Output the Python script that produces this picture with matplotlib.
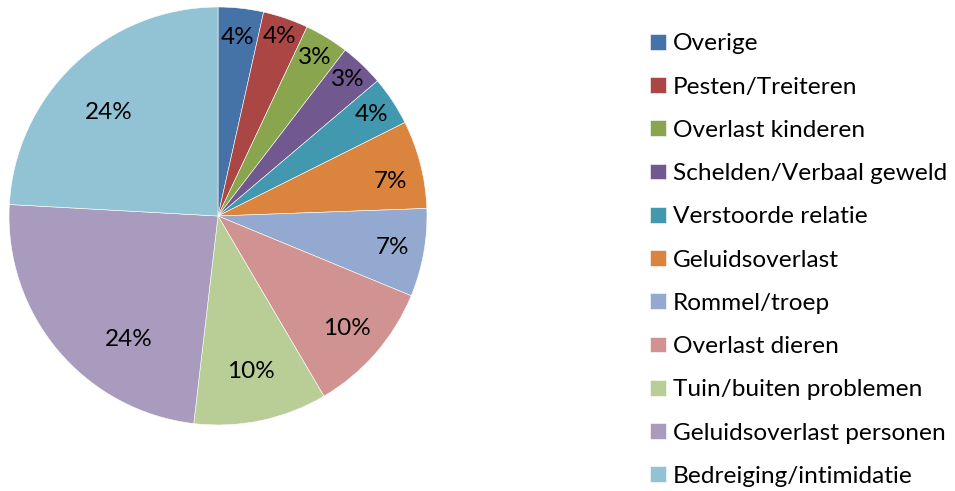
import math
import matplotlib
matplotlib.use("Agg")
import matplotlib.pyplot as plt

plt.rcParams['font.family'] = ['Lato', 'DejaVu Sans']

categories = ["Overige", "Pesten/Treiteren", "Overlast kinderen",
              "Schelden/Verbaal geweld", "Verstoorde relatie", "Geluidsoverlast",
              "Rommel/troep", "Overlast dieren", "Tuin/buiten problemen",
              "Geluidsoverlast personen", "Bedreiging/intimidatie"]
shares = [3.5, 3.5, 3.4, 3.4, 3.8, 6.8, 6.8, 10.3, 10.3, 24.0, 24.1]
colors = ["#4572A7", "#AA4643", "#89A54E", "#71588F", "#4198AF", "#DB843D",
          "#93A9CF", "#D19392", "#B9CD96", "#A99BBD", "#92C3D4"]

# plaats van de labels: afstand (fractie van straal) en hoekverschuiving (graden)
label_r = [0.86, 0.91, 0.89, 0.90, 0.88, 0.84, 0.85, 0.82, 0.76, 0.73, 0.72]
label_shift = [0, 0, 0, 0, 0, -3, 0, 0, 0, 14, 3]

fig = plt.figure(figsize=(9.55, 4.91), dpi=100)
ax = fig.add_axes([9/955, 66/491, 418/955, 418/491])

wedges, texts, autotexts = ax.pie(
    shares, colors=colors, startangle=90, counterclock=False,
    autopct='%1.0f%%', radius=1,
    wedgeprops=dict(edgecolor='white', linewidth=0.4),
    textprops=dict(fontsize=17.5, color='black'))

for w, t, r, s in zip(wedges, autotexts, label_r, label_shift):
    ang = math.radians((w.theta1 + w.theta2) / 2 + s)
    t.set_position((r * math.cos(ang), r * math.sin(ang)))
    t.set_ha('center')
    t.set_va('center')

ax.set_xlim(-1, 1)
ax.set_ylim(-1, 1)
ax.set_aspect('equal')
ax.axis('off')

fig.legend(wedges, categories, loc='upper left', bbox_to_anchor=(0.681, 0.932),
           frameon=False, fontsize=17.6, handlelength=0.62, handleheight=0.62,
           handletextpad=0.3, labelspacing=0.91, borderpad=0, borderaxespad=0)

fig.savefig("out.png", dpi=100)
